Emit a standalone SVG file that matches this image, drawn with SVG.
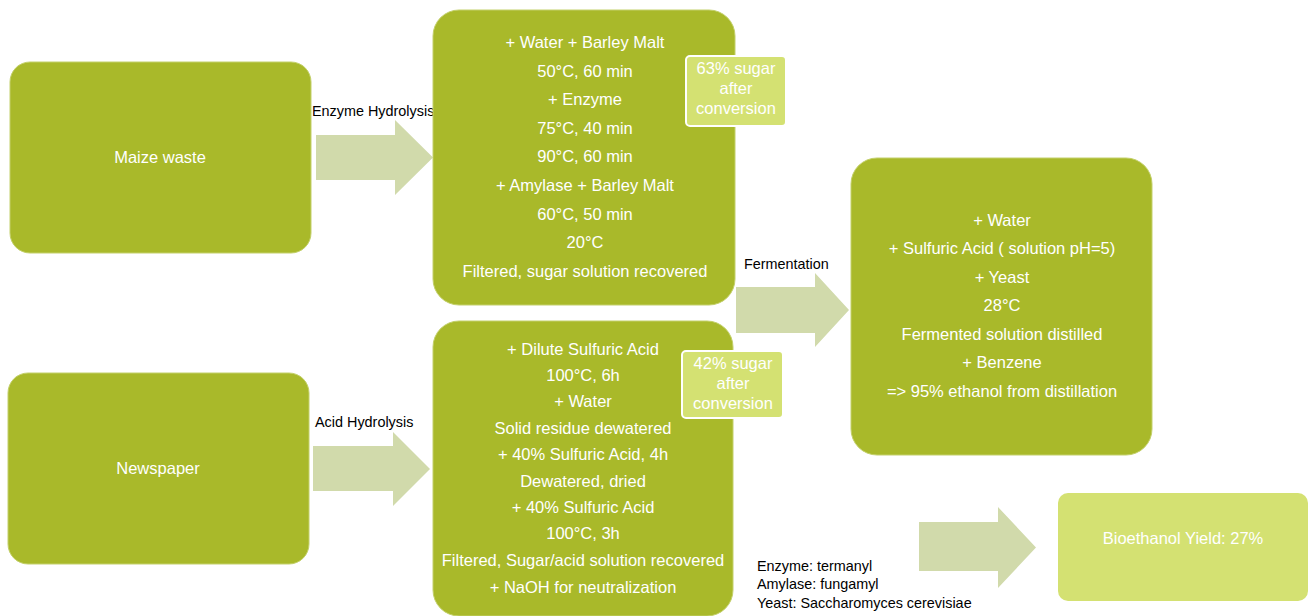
<svg xmlns="http://www.w3.org/2000/svg" width="1316" height="616" viewBox="0 0 1316 616">
<style>
.box{fill:#a9b92a;stroke:#c3d06a;stroke-width:1}
.lbox{fill:#d4e172;stroke:#ffffff;stroke-width:2}
.arr{fill:#d1daab}
.wt{font-family:"Liberation Sans",Arial,sans-serif;font-size:16.5px;fill:#ffffff;text-anchor:middle;dominant-baseline:central}
.bt{font-family:"Liberation Sans",Arial,sans-serif;font-size:14.4px;fill:#000000;dominant-baseline:central}
</style>
<rect width="1316" height="616" fill="#ffffff"/>
<g id="connectors">
<polygon class="arr" points="316,135 395,135 395,120 433,157.5 395,195 395,180 316,180"/>
<text class="bt" x="312" y="111">Enzyme Hydrolysis</text>
<polygon class="arr" points="313,446 393,446 393,432 430,469 393,506 393,491 313,491"/>
<text class="bt" x="315" y="422">Acid Hydrolysis</text>
<polygon class="arr" points="736,287 815,287 815,273 849,310 815,347 815,333 736,333"/>
<text class="bt" x="744" y="264">Fermentation</text>
<polygon class="arr" points="919,522 998,522 998,507 1036,547.5 998,588 998,571 919,571"/>
</g>
<g id="maize">
<rect class="box" x="10" y="62" width="301" height="191" rx="20"/>
<text class="wt" x="160" y="157">Maize waste</text>
</g>
<g id="newspaper">
<rect class="box" x="8" y="373" width="301" height="191" rx="20"/>
<text class="wt" x="158" y="468">Newspaper</text>
</g>
<g id="enzyme-process">
<rect class="box" x="433" y="10" width="302" height="295" rx="26"/>
<text class="wt" x="585" y="42">+ Water + Barley Malt</text>
<text class="wt" x="585" y="71">50°C, 60 min</text>
<text class="wt" x="585" y="99">+ Enzyme</text>
<text class="wt" x="585" y="128">75°C, 40 min</text>
<text class="wt" x="585" y="156">90°C, 60 min</text>
<text class="wt" x="585" y="185">+ Amylase + Barley Malt</text>
<text class="wt" x="585" y="214">60°C, 50 min</text>
<text class="wt" x="585" y="242">20°C</text>
<text class="wt" x="585" y="271">Filtered, sugar solution recovered</text>
</g>
<g id="sugar63">
<rect class="lbox" x="686" y="56" width="100" height="70" rx="4"/>
<text class="wt" x="736" y="68">63% sugar</text>
<text class="wt" x="736" y="88">after</text>
<text class="wt" x="736" y="108">conversion</text>
</g>
<g id="acid-process">
<rect class="box" x="433" y="321" width="300" height="295" rx="26"/>
<text class="wt" x="583" y="349">+ Dilute Sulfuric Acid</text>
<text class="wt" x="583" y="375">100°C, 6h</text>
<text class="wt" x="583" y="401">+ Water</text>
<text class="wt" x="583" y="428">Solid residue dewatered</text>
<text class="wt" x="583" y="454">+ 40% Sulfuric Acid, 4h</text>
<text class="wt" x="583" y="481">Dewatered, dried</text>
<text class="wt" x="583" y="507">+ 40% Sulfuric Acid</text>
<text class="wt" x="583" y="533">100°C, 3h</text>
<text class="wt" x="583" y="560">Filtered, Sugar/acid solution recovered</text>
<text class="wt" x="583" y="587">+ NaOH for neutralization</text>
</g>
<g id="sugar42">
<rect class="lbox" x="682" y="351" width="101" height="67" rx="4"/>
<text class="wt" x="733" y="363">42% sugar</text>
<text class="wt" x="733" y="383">after</text>
<text class="wt" x="733" y="403">conversion</text>
</g>
<g id="fermentation">
<rect class="box" x="851" y="158" width="301" height="297" rx="26"/>
<text class="wt" x="1002" y="220">+ Water</text>
<text class="wt" x="1002" y="248">+ Sulfuric Acid ( solution pH=5)</text>
<text class="wt" x="1002" y="277">+ Yeast</text>
<text class="wt" x="1002" y="305">28°C</text>
<text class="wt" x="1002" y="334">Fermented solution distilled</text>
<text class="wt" x="1002" y="362">+ Benzene</text>
<text class="wt" x="1002" y="391">=&gt; 95% ethanol from distillation</text>
</g>
<g id="yield">
<rect x="1058" y="493" width="250" height="108" rx="10" fill="#d4e172"/>
<text class="wt" x="1183" y="538">Bioethanol Yield: 27%</text>
</g>
<g id="notes">
<text class="bt" x="757" y="566">Enzyme: termanyl</text>
<text class="bt" x="757" y="584">Amylase: fungamyl</text>
<text class="bt" x="757" y="603">Yeast: Saccharomyces cerevisiae</text>
</g>
</svg>
